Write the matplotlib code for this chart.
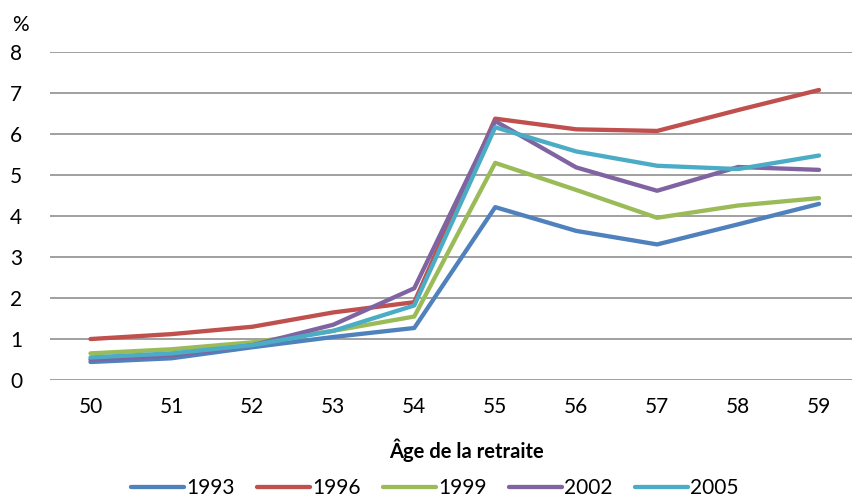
import matplotlib.pyplot as plt

plt.rcParams['font.family'] = ['Lato', 'DejaVu Sans']

ages = [50, 51, 52, 53, 54, 55, 56, 57, 58, 59]
y1993 = [0.44, 0.53, 0.80, 1.05, 1.27, 4.22, 3.64, 3.31, 3.80, 4.30]
y1996 = [1.00, 1.12, 1.30, 1.65, 1.90, 6.38, 6.12, 6.08, 6.59, 7.08]
y1999 = [0.65, 0.75, 0.92, 1.20, 1.55, 5.30, 4.64, 3.96, 4.26, 4.44]
y2002 = [0.50, 0.60, 0.85, 1.35, 2.24, 6.32, 5.19, 4.62, 5.20, 5.13]
y2005 = [0.55, 0.65, 0.85, 1.20, 1.82, 6.17, 5.58, 5.23, 5.15, 5.48]
labels = ['1993', '1996', '1999', '2002', '2005']
colors = ['#4F81BD', '#C0504D', '#9BBB59', '#8064A2', '#4BACC6']

fig = plt.figure(figsize=(8.52, 4.97), dpi=100)
ax = fig.add_axes([50 / 852, 1 - 380 / 497, 809.5 / 852, 327.7 / 497])

for ys, lab, c in zip([y1993, y1996, y1999, y2002, y2005], labels, colors):
    ax.plot(ages, ys, color=c, linewidth=3.1, label=lab, solid_capstyle='round')

ax.set_xlim(49.5, 59.5)
ax.set_ylim(0, 8)
ax.set_xticks(ages)
ax.set_yticks(range(0, 9))
ax.yaxis.grid(True, color='#868686', linewidth=1.1)
ax.set_axisbelow(True)
for s in ax.spines.values():
    s.set_visible(False)
ax.tick_params(length=0, labelsize=15, colors='black')
ax.tick_params(axis='x', pad=12)
ax.tick_params(axis='y', pad=20)

ax.set_xlabel('Âge de la retraite', fontsize=14.5, fontweight='bold')
ax.xaxis.set_label_coords((466 - 50) / 809.5, -(439 - 380) / 327.7)
fig.text(20 / 852, 1 - 25 / 497, '%', fontsize=15, ha='center', va='center')

fig.legend(loc='center', bbox_to_anchor=(435 / 852, 1 - 488 / 497), ncol=5,
           frameon=False, fontsize=15, handlelength=2.5, handletextpad=0.12,
           columnspacing=1.1)

plt.savefig('out.png', dpi=100)
